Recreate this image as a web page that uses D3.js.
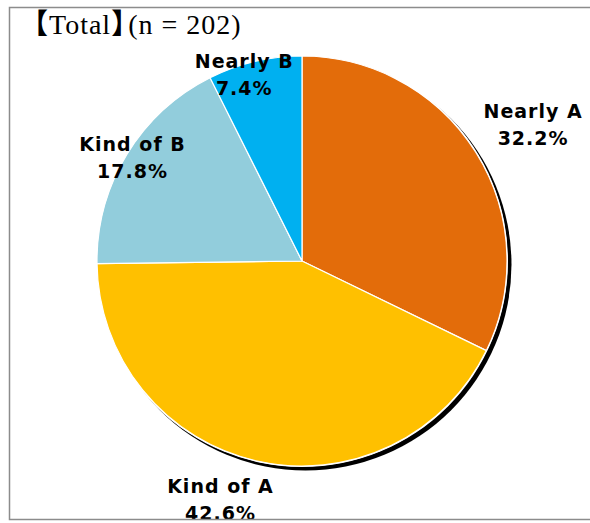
<!DOCTYPE html>
<html>
<head>
<meta charset="utf-8">
<script src="https://cdn.jsdelivr.net/npm/d3@7"></script>
<style>
  body { margin: 0; background: #fff; }
  svg { display: block; }
</style>
</head>
<body>
<svg id="chart"></svg>
<script>
// Chart data
const categories = ["Nearly A", "Kind of A", "Kind of B", "Nearly B"];
const shares = [32.2, 42.6, 17.8, 7.4];
const colors = ["#E36C0A", "#FFC000", "#92CDDC", "#00B0F0"];

// Label placement (radius from centre, extra shift) per slice
const labelRadius = [262, 250, 196, 190];
const labelShift = [[9, 0], [-27, -8], [-2, -4], [-14, -4]];

const width = 590;
const height = 523;
const cx = 302, cy = 261, radius = 205;

const svg = d3.select("#chart")
    .attr("width", width)
    .attr("height", height);

// Clip everything to the chart frame
svg.append("defs").append("clipPath")
    .attr("id", "frame-clip")
    .append("rect")
    .attr("x", 10).attr("y", 7)
    .attr("width", width - 10).attr("height", 512);

const root = svg.append("g").attr("clip-path", "url(#frame-clip)");

const pie = d3.pie().sort(null).value(d => d);
const arcs = pie(shares);
const arc = d3.arc().innerRadius(0).outerRadius(radius);

const g = root.append("g").attr("transform", `translate(${cx},${cy})`);

// Shadow behind the pie
g.append("circle")
    .attr("cx", 3.5).attr("cy", 3.5)
    .attr("r", radius + 1)
    .attr("fill", "#000");

g.append("circle")
    .attr("r", radius + 1)
    .attr("fill", "#fff");

// Slices
g.selectAll("path.slice")
    .data(arcs)
    .enter()
    .append("path")
    .attr("class", "slice")
    .attr("d", arc)
    .attr("fill", (d, i) => colors[i])
    .attr("stroke", "#fff")
    .attr("stroke-width", 1.2)
    .attr("stroke-linejoin", "round");

// Labels
const labels = g.selectAll("text.label")
    .data(arcs)
    .enter()
    .append("text")
    .attr("class", "label")
    .attr("transform", (d, i) => {
        const c = d3.arc().innerRadius(labelRadius[i]).outerRadius(labelRadius[i]).centroid(d);
        return `translate(${c[0] + labelShift[i][0]},${c[1] + labelShift[i][1]})`;
    })
    .attr("text-anchor", "middle")
    .style("font-family", "'DejaVu Sans', sans-serif")
    .style("font-weight", "bold")
    .style("font-size", "19px")
    .style("letter-spacing", "1px")
    .attr("fill", "#000");

labels.append("tspan")
    .attr("x", 0).attr("dy", "-0.2em")
    .text((d, i) => categories[i]);

labels.append("tspan")
    .attr("x", 0).attr("dy", "1.4em")
    .text((d, i) => shares[i].toFixed(1) + "%");

// Title (half-width brackets)
const title = root.append("text")
    .attr("x", 34).attr("y", 34)
    .style("font-family", "'Liberation Serif', 'Noto Sans CJK JP', serif")
    .style("font-size", "28px")
    .style("letter-spacing", "1px")
    .attr("fill", "#000");

title.append("tspan").style("font-family", "'Noto Sans CJK JP'").style("font-weight", "bold")
    .style("font-feature-settings", "'halt'").text("【");
title.append("tspan").text("Total");
title.append("tspan").style("font-family", "'Noto Sans CJK JP'").style("font-weight", "bold")
    .style("font-feature-settings", "'halt'").text("】");
title.append("tspan").attr("dx", 2).text("(n = 202)");

// Frame
svg.append("path")
    .attr("d", `M${width},7.5 H9.5 V519.5 H${width}`)
    .attr("fill", "none")
    .attr("stroke", "#8c8c8c")
    .attr("stroke-width", 1.5);
</script>
</body>
</html>
